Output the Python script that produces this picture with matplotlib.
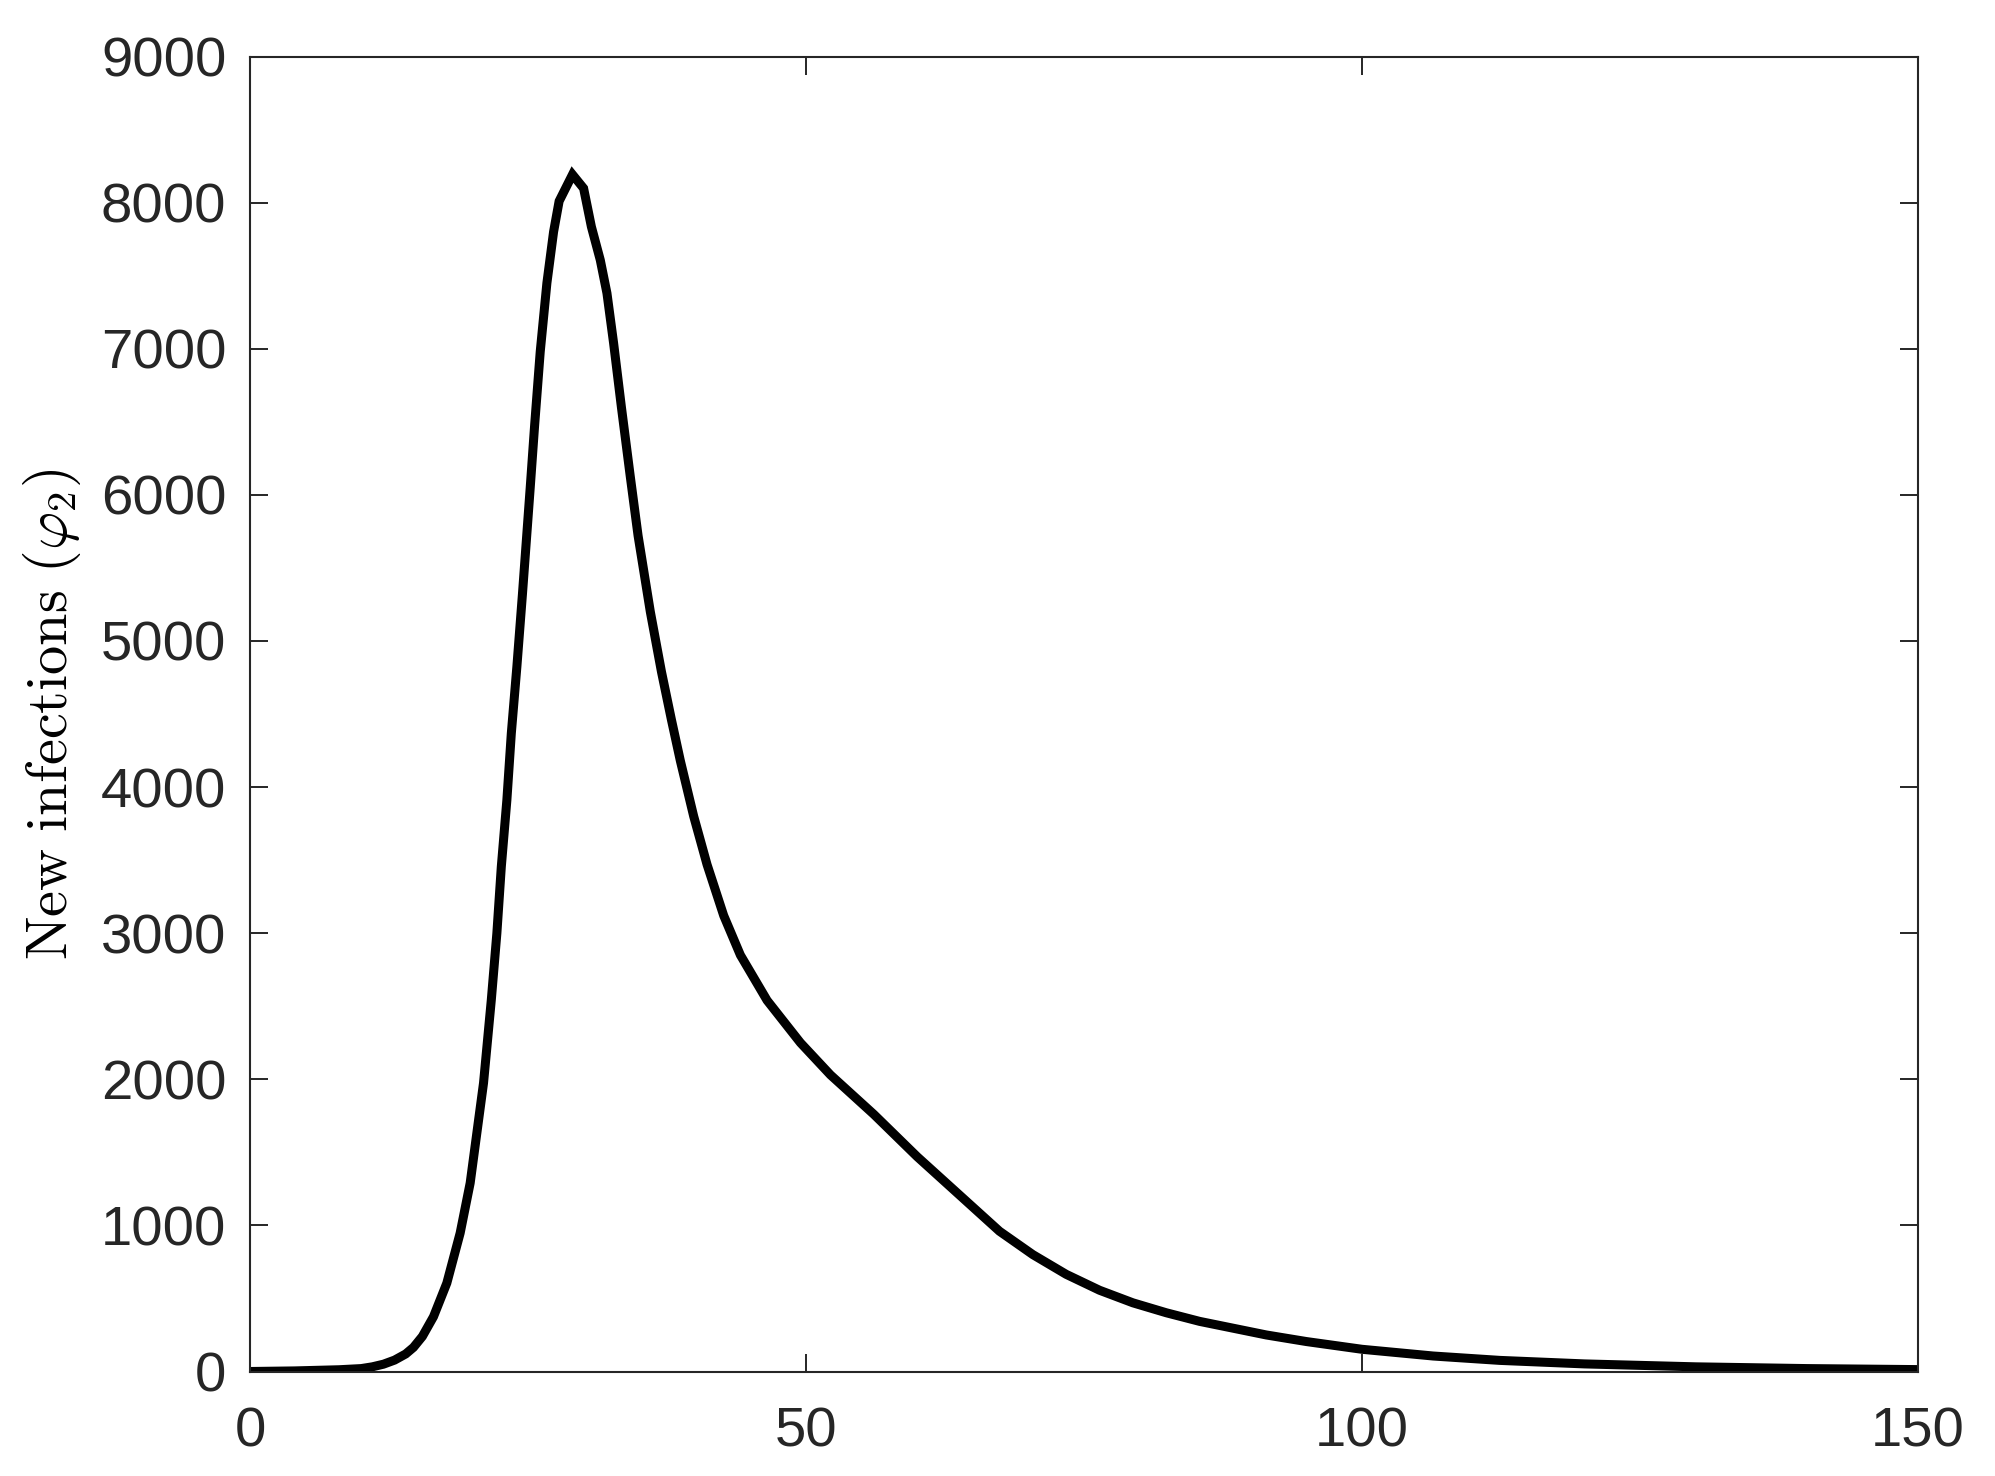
import matplotlib
matplotlib.use("Agg")
import matplotlib.pyplot as plt

# ---- data ----
days = [0, 4, 8, 10, 11, 12, 13, 14, 14.7, 15.5, 16.5, 17.7, 18.9, 19.8, 20.4,
        21.0, 21.7, 22.2, 22.6, 23.1, 23.5, 24.0, 24.5, 25.2, 25.6, 26.1, 26.7,
        27.3, 27.8, 29.0, 30.0, 30.7, 31.5, 32.1, 32.7, 33.4, 34.2, 34.9,
        36.0, 37.0, 37.9, 38.7, 39.9, 41.1, 42.6, 44.1, 46.5, 49.5, 52.2,
        56.1, 60.0, 67.4, 70.4, 73.4, 76.4, 79.4, 82.4, 85.4, 91.4, 95.0,
        100.0, 106.4, 112.4, 120.0, 130.0, 140.0, 150.0]
new_infections = [0, 4, 12, 20, 32, 50, 78, 120, 165, 240, 375, 605, 948, 1290, 1632,
                  1974, 2543, 2999, 3455, 3911, 4368, 4824, 5320, 6050, 6480, 6980, 7450,
                  7800, 8010, 8192, 8098, 7835, 7607, 7380, 7037, 6600, 6124, 5720,
                  5200, 4790, 4460, 4180, 3800, 3470, 3120, 2850, 2540, 2250, 2030,
                  1760, 1470, 960, 800, 665, 556, 470, 402, 343, 250, 205,
                  152, 106, 76, 52, 32, 20, 13]

xticks = [0, 50, 100, 150]
yticks = [0, 1000, 2000, 3000, 4000, 5000, 6000, 7000, 8000, 9000]
ylabel = r"$\mathrm{New\ infections\ (}\varphi_2\mathrm{)}$"

# ---- figure ----
plt.rcParams["font.family"] = ["Liberation Sans", "DejaVu Sans"]
plt.rcParams["mathtext.fontset"] = "cm"

W, H = 1995, 1476
fig = plt.figure(figsize=(W / 100, H / 100), dpi=100)
l, r, b, t = 250 / W, 1918 / W, 1 - 1371.5 / H, 1 - 56.5 / H
ax = fig.add_axes([l, b, r - l, t - b])

ax.plot(days, new_infections, color="black", linewidth=6.5, solid_joinstyle="miter")

ax.set_xlim(0, 150)
ax.set_ylim(0, 9000)
ax.set_xticks(xticks)
ax.set_yticks(yticks)

frame_c = "#262626"
for s in ax.spines.values():
    s.set_color(frame_c)
    s.set_linewidth(1.5)

ax.tick_params(axis="both", which="both", direction="in", length=13, width=1.4,
               colors=frame_c, labelsize=40.5, top=True, right=True)
ax.tick_params(axis="x", pad=25)
ax.tick_params(axis="y", pad=17)

ax.set_ylabel(ylabel, fontsize=42, color="black")
ax.yaxis.set_label_coords(-0.1, 0.5)

fig.savefig("out.png", dpi=100, facecolor="white")
